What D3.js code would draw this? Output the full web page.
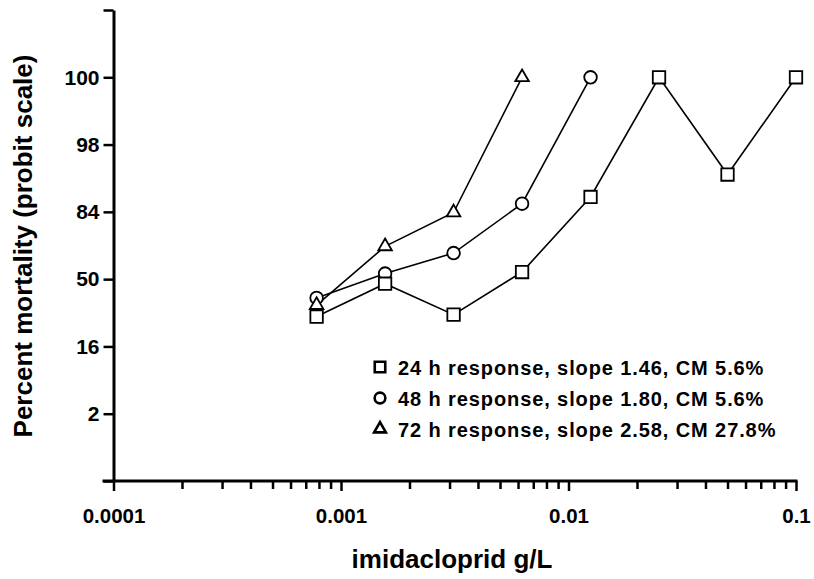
<!DOCTYPE html>
<html>
<head>
<meta charset="utf-8">
<script src="https://cdn.jsdelivr.net/npm/d3@7"></script>
<style>
  html, body { margin: 0; padding: 0; background: #fff; }
  svg text { font-family: "Liberation Sans", Arial, Helvetica, sans-serif; font-weight: bold; fill: #000; }
</style>
</head>
<body>
<svg id="chart" width="814" height="579"></svg>
<script>
// ---- data ----
const concentrations = [0.00078125, 0.0015625, 0.003125, 0.00625, 0.0125, 0.025, 0.05, 0.1]; // imidacloprid g/L
const mortality24h = [28.9, 47.3, 29.9, 54.2, 88.9, 100, 94.0, 100];
const mortality48h = [39.0, 53.3, 65.1, 86.9, 100];
const mortality72h = [35.0, 68.7, 83.9, 100];
const seriesNames = ["24 h response, slope 1.46, CM 5.6%", "48 h response, slope 1.80, CM 5.6%", "72 h response, slope 2.58, CM 27.8%"];
const yTickProbits = [-3, -2, -1, 0, 1, 2, 3, 4];
const yTickLabels = ["", "2", "16", "50", "84", "98", "100", ""];
const xMajorTicks = [0.0001, 0.001, 0.01, 0.1];
const xTickLabels = ["0.0001", "0.001", "0.01", "0.1"];

// probit (inverse normal CDF, Acklam), clamped to ±3
function probit(pct) {
  const p = pct / 100;
  if (p >= 0.99865) return 3;
  if (p <= 0.00135) return -3;
  const a = [-39.69683028665376, 220.9460984245205, -275.9285104469687, 138.3577518672690, -30.66479806614716, 2.506628277459239];
  const b = [-54.47609879822406, 161.5858368580409, -155.6989798598866, 66.80131188771972, -13.28068155288572];
  const c = [-0.007784894002430293, -0.3223964580411365, -2.400758277161838, -2.549732539343734, 4.374664141464968, 2.938163982698783];
  const d = [0.007784695709041462, 0.3224671290700398, 2.445134137142996, 3.754408661907416];
  const pl = 0.02425;
  let q, r;
  if (p < pl) {
    q = Math.sqrt(-2 * Math.log(p));
    return (((((c[0]*q+c[1])*q+c[2])*q+c[3])*q+c[4])*q+c[5]) / ((((d[0]*q+d[1])*q+d[2])*q+d[3])*q+1);
  } else if (p <= 1 - pl) {
    q = p - 0.5; r = q * q;
    return (((((a[0]*r+a[1])*r+a[2])*r+a[3])*r+a[4])*r+a[5])*q / (((((b[0]*r+b[1])*r+b[2])*r+b[3])*r+b[4])*r+1);
  } else {
    q = Math.sqrt(-2 * Math.log(1 - p));
    return -(((((c[0]*q+c[1])*q+c[2])*q+c[3])*q+c[4])*q+c[5]) / ((((d[0]*q+d[1])*q+d[2])*q+d[3])*q+1);
  }
}

const svg = d3.select("#chart");
const x = d3.scaleLog().domain([0.0001, 0.1]).range([113.5, 796]);
const y = d3.scaleLinear().domain([-3, 4]).range([481, 10]);

// ---- axes ----
const yAxis = d3.axisLeft(y).tickValues(yTickProbits).tickSize(10).tickSizeOuter(0).tickPadding(4)
  .tickFormat((d, i) => yTickLabels[i]);
const gy = svg.append("g").attr("transform", `translate(${x(0.0001)},0)`).call(yAxis);
gy.select(".domain").attr("stroke-width", 3);
gy.selectAll(".tick line").attr("stroke-width", 2.5);
gy.selectAll(".tick text").style("font-size", "21px");

const minorTicks = [];
for (let e = -4; e < -1; e++) for (let m = 2; m <= 9; m++) minorTicks.push(m * Math.pow(10, e));
const xAxisMinor = d3.axisBottom(x).tickValues(minorTicks).tickSize(8).tickSizeOuter(0).tickFormat("");
const gxm = svg.append("g").attr("transform", `translate(0,${y(-3)})`).call(xAxisMinor);
gxm.select(".domain").remove();
gxm.selectAll(".tick line").attr("stroke-width", 2.5);

const xAxis = d3.axisBottom(x).tickValues(xMajorTicks).tickSize(10).tickSizeOuter(0).tickPadding(17)
  .tickFormat((d, i) => xTickLabels[i]);
const gx = svg.append("g").attr("transform", `translate(0,${y(-3)})`).call(xAxis);
gx.select(".domain").attr("stroke-width", 3).attr("d", `M${x(0.0001) - 11},0H${x(0.1) + 1.5}`);
gx.selectAll(".tick line").attr("stroke-width", 2.5);
gx.selectAll(".tick text").style("font-size", "20.5px");

// ---- axis titles ----
svg.append("text")
  .attr("transform", `translate(32,246) rotate(-90)`)
  .attr("text-anchor", "middle")
  .style("font-size", "26px")
  .text("Percent mortality (probit scale)");
svg.append("text")
  .attr("x", 452).attr("y", 568)
  .attr("text-anchor", "middle")
  .style("font-size", "26px")
  .text("imidacloprid g/L");

// ---- series ----
const series = [
  { name: seriesNames[1], values: mortality48h, symbol: d3.symbolCircle, size: 125 },
  { name: seriesNames[2], values: mortality72h, symbol: d3.symbolTriangle, size: 80 },
  { name: seriesNames[0], values: mortality24h, symbol: d3.symbolSquare, size: 155 }
];
const line = d3.line().x(d => x(d.c)).y(d => y(probit(d.m)));
series.forEach(s => {
  s.points = s.values.map((m, i) => ({ c: concentrations[i], m }));
  svg.append("path").datum(s.points).attr("d", line)
    .attr("fill", "none").attr("stroke", "#000").attr("stroke-width", 1.6);
});
series.forEach(s => {
  svg.append("g").selectAll("path").data(s.points).join("path")
    .attr("d", d3.symbol().type(s.symbol).size(s.size))
    .attr("transform", d => `translate(${x(d.c)},${y(probit(d.m))})`)
    .attr("fill", "#fff").attr("stroke", "#000").attr("stroke-width", 1.8);
});

// ---- legend ----
const legendItems = [
  { name: seriesNames[0], symbol: d3.symbolSquare, size: 110 },
  { name: seriesNames[1], symbol: d3.symbolCircle, size: 90 },
  { name: seriesNames[2], symbol: d3.symbolTriangle, size: 60 }
];
const legendBaselines = [375, 406, 437];
const lg = svg.append("g");
legendItems.forEach((it, i) => {
  lg.append("path")
    .attr("d", d3.symbol().type(it.symbol).size(it.size))
    .attr("transform", `translate(380,${legendBaselines[i] - 8})`)
    .attr("fill", "#fff").attr("stroke", "#000").attr("stroke-width", 2.6);
  lg.append("text")
    .attr("x", 398).attr("y", legendBaselines[i])
    .style("font-size", "20px")
    .style("letter-spacing", "0.9px")
    .text(it.name);
});
</script>
</body>
</html>
